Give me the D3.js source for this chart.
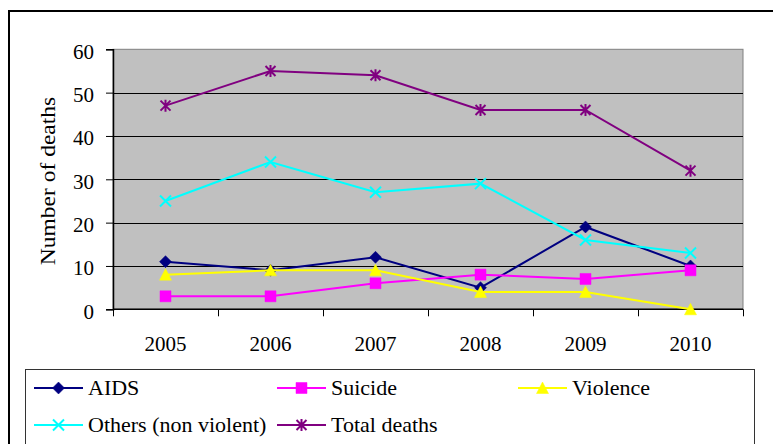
<!DOCTYPE html>
<html>
<head>
<meta charset="utf-8">
<script src="https://cdn.jsdelivr.net/npm/d3@7"></script>
<style>
  html, body { margin: 0; padding: 0; background: #fff; }
  svg text { font-family: "Liberation Serif", "Times New Roman", serif; }
</style>
</head>
<body>
<svg id="chart" width="773" height="444"></svg>
<script>
// chart data
const years = ["2005", "2006", "2007", "2008", "2009", "2010"];
const yTicks = [0, 10, 20, 30, 40, 50, 60];
const aids = [11, 9, 12, 5, 19, 10];
const suicide = [3, 3, 6, 8, 7, 9];
const violence = [8, 9, 9, 4, 4, 0];
const others = [25, 34, 27, 29, 16, 13];
const totalDeaths = [47, 55, 54, 46, 46, 32];

const series = [
  { name: "AIDS", values: aids, color: "#000080", marker: "diamond" },
  { name: "Suicide", values: suicide, color: "#FF00FF", marker: "square" },
  { name: "Violence", values: violence, color: "#FFFF00", marker: "triangle" },
  { name: "Others (non violent)", values: others, color: "#00FFFF", marker: "x" },
  { name: "Total deaths", values: totalDeaths, color: "#800080", marker: "star" }
];

const FONT = "'Liberation Serif', 'Times New Roman', serif";
const plot = { left: 113, right: 743, top: 49.3, bottom: 309.3 };

// marker paths, centred on 0,0
function markerPath(type) {
  switch (type) {
    case "diamond": return "M0,-6L6,0L0,6L-6,0Z";
    case "square": return "M-5.5,-5.5H5.5V5.5H-5.5Z";
    case "triangle": return "M0,-6L6,5.5L-6,5.5Z";
    case "x": return "M-5.5,-5.5L5.5,5.5M-5.5,5.5L5.5,-5.5";
    case "star": return "M-5,-5L5,5M-5,5L5,-5M0,-6V6";
  }
}
const filled = t => t == "diamond" || t == "square" || t == "triangle";

const svg = d3.select("#chart");

// outer chart border
svg.append("rect")
  .attr("x", 9).attr("y", 11)
  .attr("width", 820).attr("height", 500)
  .attr("fill", "#fff")
  .attr("stroke", "#000")
  .attr("stroke-width", 2);

// scales
const x = d3.scaleBand()
  .domain(years)
  .range([plot.left, plot.right])
  .padding(0);

const y = d3.scaleLinear()
  .domain([0, 60])
  .range([plot.bottom, plot.top]);

const cx = d => x(d) + x.bandwidth() / 2;

// plot area
svg.append("rect")
  .attr("x", plot.left).attr("y", plot.top)
  .attr("width", plot.right - plot.left)
  .attr("height", plot.bottom - plot.top)
  .attr("fill", "#C0C0C0")
  .attr("stroke", "#808080")
  .attr("stroke-width", 1);

// gridlines
svg.append("g")
  .selectAll("line")
  .data(yTicks.slice(1, -1))
  .enter()
  .append("line")
  .attr("x1", plot.left).attr("x2", plot.right)
  .attr("y1", d => Math.round(y(d)) + 0.5)
  .attr("y2", d => Math.round(y(d)) + 0.5)
  .attr("stroke", "#000")
  .attr("stroke-width", 1);

// Y axis
const yAxisG = svg.append("g")
  .attr("transform", "translate(" + plot.left + ",0)")
  .call(d3.axisLeft(y).tickValues(yTicks).tickSize(7).tickPadding(12))

yAxisG.attr("font-family", FONT).attr("font-size", 21);
yAxisG.select(".domain").attr("stroke", "#000").attr("stroke-width", 1.5);
yAxisG.selectAll(".tick line").attr("stroke", "#000");
yAxisG.selectAll("text")
  .attr("font-family", FONT)
  .attr("font-size", "21px")
  .attr("fill", "#000")
  .attr("dy", "0.42em");

// X axis: labels centred in bands, ticks on band edges
const xAxisG = svg.append("g")
  .attr("transform", "translate(0," + plot.bottom + ")")
  .call(d3.axisBottom(x).tickSize(0).tickPadding(27))

xAxisG.attr("font-family", FONT).attr("font-size", 21);
xAxisG.select(".domain").remove();
xAxisG.selectAll("text")
  .attr("font-family", FONT)
  .attr("font-size", "21px")
  .attr("fill", "#000");

svg.append("line")
  .attr("x1", plot.left).attr("x2", plot.right)
  .attr("y1", plot.bottom).attr("y2", plot.bottom)
  .attr("stroke", "#000").attr("stroke-width", 1.5);

svg.append("g")
  .selectAll("line")
  .data(years.map(d => x(d)).concat([x.range()[1]]))
  .enter()
  .append("line")
  .attr("x1", d => Math.round(d) + 0.5).attr("x2", d => Math.round(d) + 0.5)
  .attr("y1", plot.bottom).attr("y2", plot.bottom + 7)
  .attr("stroke", "#000");

// Y axis title
svg.append("text")
  .attr("transform", "translate(55,181) rotate(-90) scale(1.12,1)")
  .attr("text-anchor", "middle")
  .attr("font-family", FONT)
  .attr("font-size", "21px")
  .attr("fill", "#000")
  .text("Number of deaths");

// lines and markers
const line = d3.line()
  .x((d, i) => cx(years[i]))
  .y(d => y(d));

series.forEach(s => {
  svg.append("path")
    .attr("d", line(s.values))
    .attr("fill", "none")
    .attr("stroke", s.color)
    .attr("stroke-width", 2);

  svg.append("g")
    .selectAll("path")
    .data(s.values)
    .enter()
    .append("path")
    .attr("transform", (d, i) => "translate(" + cx(years[i]) + "," + y(d) + ")")
    .attr("d", markerPath(s.marker))
    .attr("fill", filled(s.marker) ? s.color : "none")
    .attr("stroke", s.color)
    .attr("stroke-width", filled(s.marker) ? 0.5 : 2);
});

// legend
svg.append("rect")
  .attr("x", 25.5).attr("y", 369.5)
  .attr("width", 729).attr("height", 120)
  .attr("fill", "#fff")
  .attr("stroke", "#333")
  .attr("stroke-width", 1);

const legendPos = [
  { x: 34, y: 388 }, { x: 277, y: 388 }, { x: 518, y: 388 },
  { x: 34, y: 425 }, { x: 277, y: 425 }
];

series.forEach((s, i) => {
  const p = legendPos[i];
  const g = svg.append("g").attr("transform", "translate(" + p.x + "," + p.y + ")");
  g.append("line")
    .attr("x1", 0).attr("x2", 49)
    .attr("stroke", s.color).attr("stroke-width", 2);
  g.append("path")
    .attr("transform", "translate(24.5,0)")
    .attr("d", markerPath(s.marker))
    .attr("fill", filled(s.marker) ? s.color : "none")
    .attr("stroke", s.color)
    .attr("stroke-width", filled(s.marker) ? 0.5 : 2);
  g.append("text")
    .attr("x", 54)
    .attr("y", 7)
    .attr("font-family", FONT)
    .attr("font-size", "22px")
    .attr("fill", "#000")
    .text(s.name);
});
</script>
</body>
</html>
